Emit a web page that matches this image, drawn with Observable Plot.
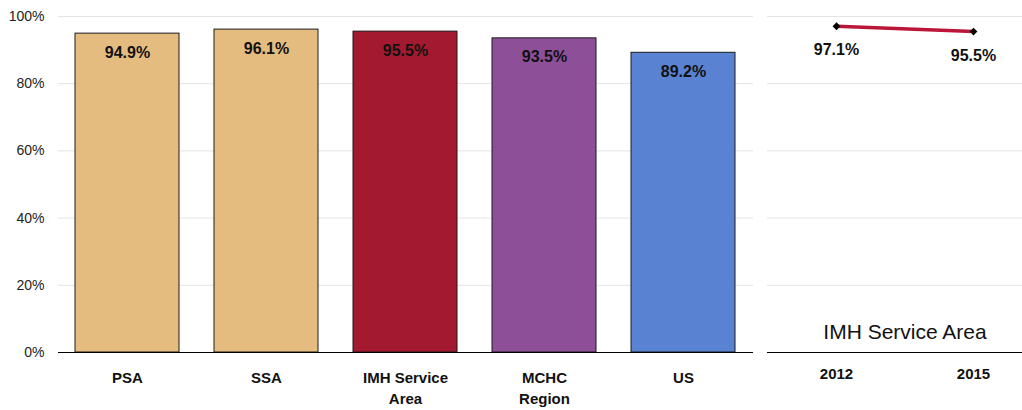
<!DOCTYPE html>
<html>
<head>
<meta charset="utf-8">
<script src="https://cdn.jsdelivr.net/npm/d3@7"></script>
<script src="https://cdn.jsdelivr.net/npm/@observablehq/plot@0.6"></script>
<style>
  html, body { margin: 0; padding: 0; background: #fff; }
  #wrap { position: relative; width: 1022px; height: 410px; overflow: hidden; font-family: "Liberation Sans", Arial, sans-serif; }
  #left { position: absolute; left: 0; top: 0; }
  #right { position: absolute; left: 767px; top: 0; }
</style>
</head>
<body>
<div id="wrap"><div id="left"></div><div id="right"></div></div>
<script>
const categories = ["PSA", "SSA", "IMH Service Area", "MCHC Region", "US"];
const categoryLabels = ["PSA", "SSA", "IMH Service\nArea", "MCHC\nRegion", "US"];
const values = [94.9, 96.1, 95.5, 93.5, 89.2];
const barColors = ["#E5BC80", "#E5BC80", "#A3192F", "#8D4F98", "#5A82D2"];
const yTicks = [0, 20, 40, 60, 80, 100];

const years = ["2012", "2015"];
const trendValues = [97.1, 95.5];
const trendTitle = "IMH Service Area";

const bars = categories.map((c, i) => ({category: c, value: values[i], color: barColors[i], label: categoryLabels[i]}));
const trend = years.map((y, i) => ({year: y, value: trendValues[i]}));
const fmt = v => v.toFixed(1) + "%";

const left = Plot.plot({
  width: 760, height: 410,
  marginTop: 16, marginBottom: 58, marginLeft: 58, marginRight: 7,
  style: {fontFamily: "Liberation Sans, Arial, sans-serif", background: "white"},
  x: {domain: categories, paddingInner: 0.25, paddingOuter: 0.125, label: null},
  y: {domain: [0, 100], label: null},
  marks: [
    Plot.ruleY(yTicks.filter(d => d > 0), {stroke: "#e4e4e4", strokeWidth: 1}),
    Plot.barY(bars, {x: "category", y: "value", fill: "color", stroke: "#1a1a1a", strokeWidth: 1}),
    Plot.ruleY([0], {stroke: "#000", strokeWidth: 1.2}),
    Plot.text(bars, {x: "category", y: "value", text: d => fmt(d.value), dy: 19, fontSize: 16, fontWeight: "bold", fill: "#111"}),
    Plot.axisY({ticks: yTicks, tickFormat: d => d + "%", tickSize: 0, tickPadding: 14, fontSize: 14, fill: "#222", label: null}),
    Plot.axisX({tickSize: 0, tickPadding: 16, fontSize: 15, fontWeight: "bold", fill: "#111", lineHeight: 1.4,
      tickFormat: d => categoryLabels[categories.indexOf(d)], label: null})
  ]
});
document.getElementById("left").appendChild(left);

const right = Plot.plot({
  width: 255, height: 410,
  marginTop: 16, marginBottom: 58, marginLeft: 0, marginRight: 0,
  style: {fontFamily: "Liberation Sans, Arial, sans-serif", background: "white"},
  x: {type: "point", domain: years, range: [68.5, 205.5], padding: 0, label: null},
  y: {domain: [0, 100], label: null, axis: null},
  marks: [
    Plot.ruleY(yTicks.filter(d => d > 0), {stroke: "#e4e4e4", strokeWidth: 1}),
    Plot.ruleY([0], {stroke: "#000", strokeWidth: 1.2}),
    Plot.line(trend, {x: "year", y: "value", stroke: "#BA1638", strokeWidth: 3.5}),
    Plot.dot(trend, {x: "year", y: "value", symbol: "diamond2", r: 3.5, fill: "#000"}),
    Plot.text(trend, {x: "year", y: "value", text: d => fmt(d.value), dy: 24, fontSize: 16, fontWeight: "bold", fill: "#111"}),
    Plot.text([trendTitle], {frameAnchor: "bottom", dx: 10, dy: -14, fontSize: 21, fill: "#111"}),
    Plot.axisX({tickSize: 0, tickPadding: 16, fontSize: 15, fontWeight: "bold", fill: "#111", label: null})
  ]
});
document.getElementById("right").appendChild(right);
</script>
</body>
</html>
